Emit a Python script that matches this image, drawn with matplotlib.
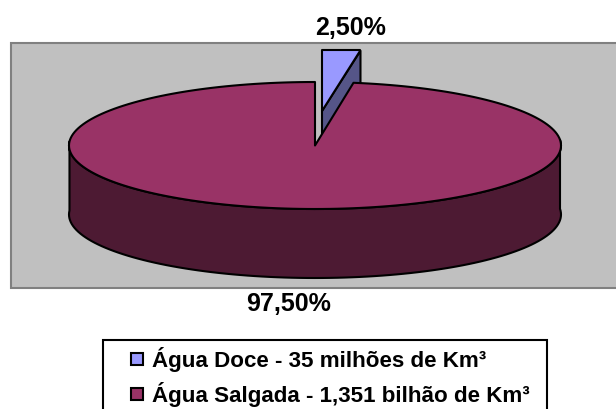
import numpy as np
import matplotlib
matplotlib.use("Agg")
import matplotlib.pyplot as plt
from matplotlib.patches import Rectangle, Polygon

plt.rcParams['font.family'] = ['Liberation Sans', 'DejaVu Sans']

labels = ['Água Doce - 35 milhões de Km³', 'Água Salgada - 1,351 bilhão de Km³']
values = [2.5, 97.5]
pct_labels = ['2,50%', '97,50%']
top_colors = ['#9999ff', '#993366']
side_colors = ['#555588', '#4d1a33']

cx, cy = 315, 146.5
rx, ry = 246, 63.5
depth = 69
shift = (7, -34.5)
small_ry = 61


def rim(a0, a1, ry_=ry, n=200):
    # angles clockwise from 12 o'clock, in degrees
    t = np.radians(np.linspace(a0, a1, n))
    return cx + rx * np.sin(t), cy - ry_ * np.cos(t)


fig = plt.figure(figsize=(6.16, 4.10), dpi=100)
ax = fig.add_axes([0, 0, 1, 1])
ax.set_xlim(0, 616)
ax.set_ylim(410, 0)
ax.axis('off')

ax.add_patch(Rectangle((10.5, 43.5), 620, 245.5, fc='#c0c0c0', ec='#808080', lw=1.5))

sweep = np.array(values) / sum(values) * 360
line = dict(ec='black', lw=1.5, joinstyle='round')

# small slice, pulled out, goes behind the big one
x, y = rim(0, sweep[0], small_ry)
x, y = x + shift[0], y + shift[1]
ox, oy = cx + shift[0], cy + shift[1]
ax.add_patch(Polygon([(ox, oy), (x[-1], y[-1]), (x[-1], y[-1] + depth), (ox, oy + depth)],
                     fc=side_colors[0], **line))
ax.add_patch(Polygon([(ox, oy), (ox, y[0]), (x[-1], y[0]), (x[-1], y[-1])], fc=top_colors[0], **line))

# big slice
x, y = rim(sweep[0], 360)
front = (y > cy) | (x < cx - rx + 1) | (x > cx + rx - 1)
ax.add_patch(Polygon(np.r_[np.c_[x[front], y[front]], np.c_[x[front], y[front] + depth][::-1]],
                     fc=side_colors[1], **line))
ax.add_patch(Polygon(np.r_[[(cx, cy)], np.c_[x, y]], fc=top_colors[1], **line))

ax.text(351, 35, pct_labels[0], ha='center', va='baseline', fontsize=18, fontweight='bold')
ax.text(288.5, 311.5, pct_labels[1], ha='center', va='baseline', fontsize=18, fontweight='bold')

# legend box
ax.add_patch(Rectangle((102.5, 341), 444.5, 80, fc='white', ec='black', lw=1.5))
for i, lab in enumerate(labels):
    yy = 359.5 + i * 35.5
    ax.add_patch(Rectangle((130.5, yy - 6), 12, 12, fc=top_colors[i], ec='black', lw=1.5))
    ax.text(152, yy + 7.5, lab, ha='left', va='baseline', fontsize=16.1, fontweight='bold')

fig.savefig('out.png', dpi=100)
